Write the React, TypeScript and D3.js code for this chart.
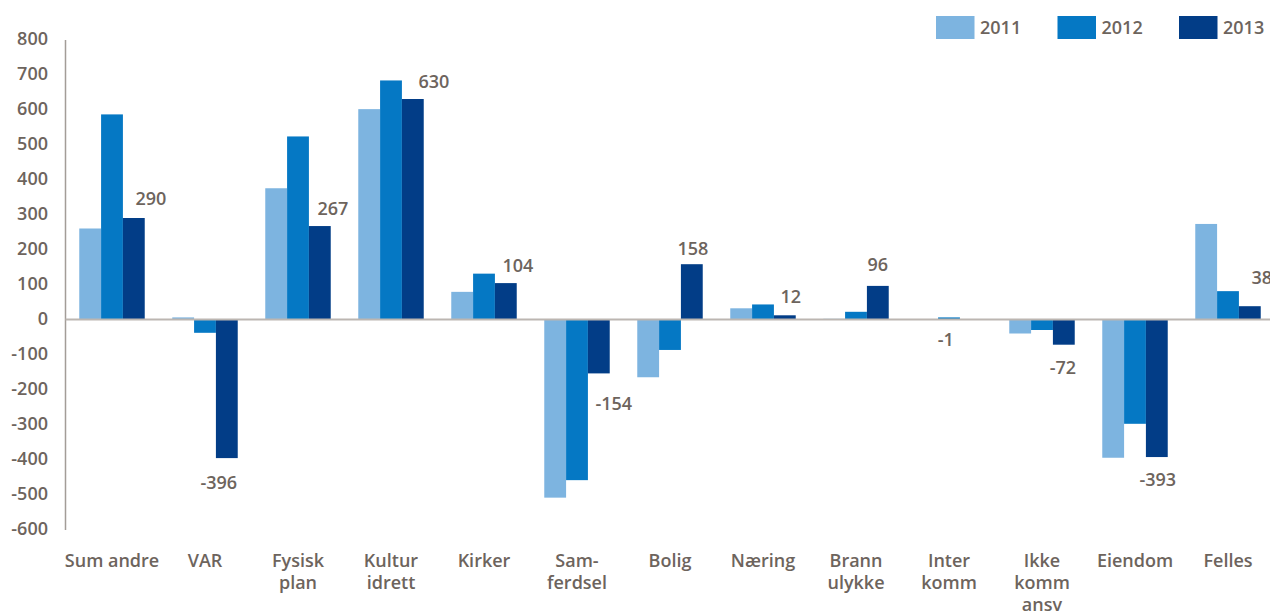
import React from 'react';
import * as d3 from 'd3';

const categories = [
  ['Sum andre'], ['VAR'], ['Fysisk', 'plan'], ['Kultur', 'idrett'], ['Kirker'],
  ['Sam-', 'ferdsel'], ['Bolig'], ['Næring'], ['Brann', 'ulykke'], ['Inter', 'komm'],
  ['Ikke', 'komm', 'ansv'], ['Eiendom'], ['Felles'],
];
const years = ['2011', '2012', '2013'];
const v2011 = [260, 6, 375, 601, 79, -509, -165, 32, 2, -1, -40, -395, 273];
const v2012 = [586, -38, 523, 683, 131, -459, -87, 43, 22, 6, -30, -298, 81];
const v2013 = [290, -396, 267, 630, 104, -154, 158, 12, 96, -1, -72, -393, 38];
const yTicks = [800, 700, 600, 500, 400, 300, 200, 100, 0, -100, -200, -300, -400, -500, -600];

// nudges for the 2013 value labels (relative to the bar end)
const labelDx = [17, -8, 13, 21, 12, 15, 1, 6, 0, -25, -1, 1, 12];
const labelDy = [-19, 25, -17, -17, -17, 30, -16, -19, -21, 20, 23, 23, -29];

const colors = ['#7db4e0', '#0578c4', '#023d87'];
const textColor = '#6d645d';
const font = "'Open Sans', 'DejaVu Sans', sans-serif";

export default function App() {
  const width = 1270;
  const height = 613;
  const series = [v2011, v2012, v2013];

  const x0 = d3.scaleBand<number>()
    .domain(d3.range(categories.length))
    .range([65.5, 1274.5])
    .paddingInner(0.296)
    .paddingOuter(0.148);
  const x1 = d3.scaleBand<string>().domain(years).range([0, x0.bandwidth()]);
  const y = d3.scaleLinear().domain([-600, 800]).range([529.5, 39.5]);

  return (
    <svg width={width} height={height} style={{ position: 'absolute', left: 0, top: 0, display: 'block' }}
      fontFamily={font} fontWeight={600}>
      <rect width={width} height={height} fill="#fff" />

      {/* y axis labels */}
      {yTicks.map(t => (
        <text key={t} x={48} y={y(t) - 1} dy="0.35em" textAnchor="end" fontSize={18} fill={textColor}>{t}</text>
      ))}

      {/* bars */}
      {categories.map((c, i) => (
        <g key={i} transform={`translate(${x0(i)},0)`}>
          {series.map((s, k) => (
            <rect key={k} x={x1(years[k])} width={x1.bandwidth()}
              y={Math.min(y(s[i]), y(0))} height={Math.abs(y(s[i]) - y(0))} fill={colors[k]} />
          ))}
        </g>
      ))}

      {/* axis + zero line */}
      <line x1={65.5} x2={65.5} y1={40} y2={530} stroke="#a39d98" strokeWidth={1.5} />
      <line x1={65.5} x2={width} y1={y(0)} y2={y(0)} stroke="#bcb6b1" strokeWidth={2} />

      {/* 2013 value labels */}
      {v2013.map((v, i) => {
        const cx = (x0(i) ?? 0) + (x1('2013') ?? 0) + x1.bandwidth() / 2 + labelDx[i];
        const cy = y(v) + labelDy[i];
        return (
          <text key={i} x={cx} y={cy} dy="0.35em" textAnchor="middle" fontSize={18} fill={textColor}>{v}</text>
        );
      })}

      {/* category labels */}
      {categories.map((c, i) => (
        <text key={i} x={(x0(i) ?? 0) + x0.bandwidth() / 2} y={567} textAnchor="middle" fontSize={18} fill={textColor}>
          {c.map((line, j) => (
            <tspan key={j} x={(x0(i) ?? 0) + x0.bandwidth() / 2} dy={j === 0 ? 0 : 22}>{line}</tspan>
          ))}
        </text>
      ))}

      {/* legend */}
      {years.map((yr, k) => (
        <g key={yr} transform={`translate(${936 + k * 121.5},16)`}>
          <rect width={38.5} height={23} fill={colors[k]} />
          <text x={44} y={11.5} dy="0.35em" fontSize={18} fill={textColor}>{yr}</text>
        </g>
      ))}
    </svg>
  );
}
